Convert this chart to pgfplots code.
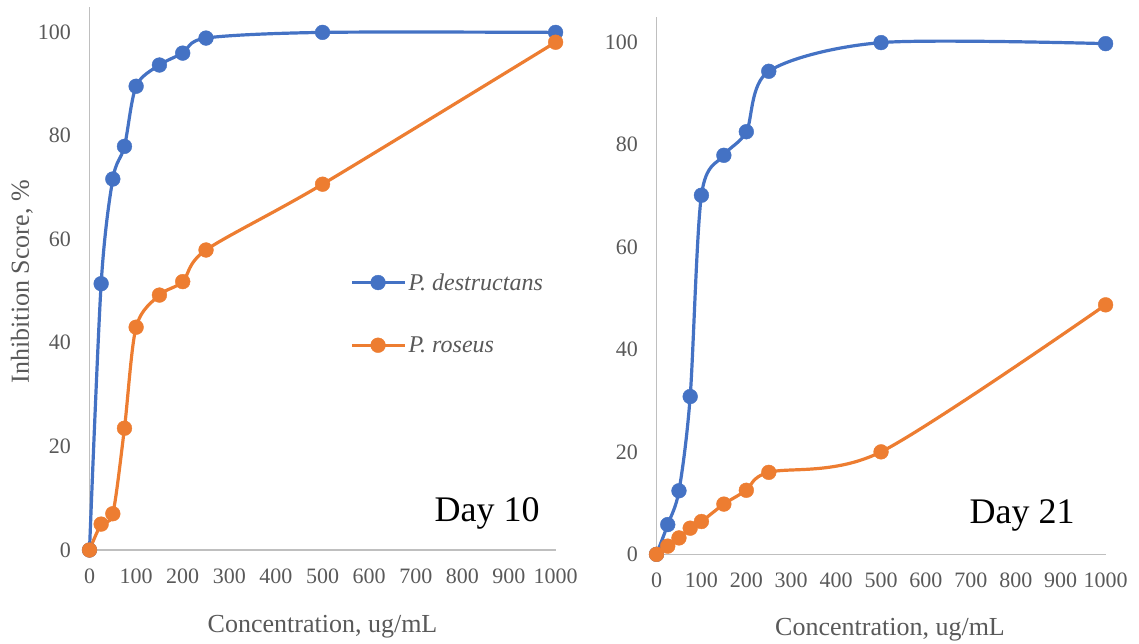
\documentclass[border=0pt]{standalone}
\usepackage{pgfplots}
\pgfplotsset{compat=1.18}
\usepackage{fontspec}
\setmainfont{Liberation Serif}
\definecolor{cblue}{HTML}{4472C4}
\definecolor{corange}{HTML}{ED7D31}
\definecolor{txt}{HTML}{595959}
\definecolor{axl}{HTML}{BFBFBF}
\pgfplotsset{
  myaxis/.style={
    scale only axis, clip=false,
    axis lines=left, axis line style={draw=axl, line width=1.3pt, -},
    xmin=0, xmax=1000, ymin=0,
    xtick={0,100,...,1000}, ytick={0,20,...,100},
    major tick length=0pt,
    tick label style={font=\fontsize{22}{26}\selectfont, text=txt},
    /pgf/number format/assume math mode=true,
    /pgf/number format/1000 sep={},
    scaled ticks=false,
    xticklabel style={yshift=-15pt},
    yticklabel style={xshift=-15pt},
    label style={font=\fontsize{26}{30}\selectfont, text=txt},
    anchor=south west,
  },
  blueplot/.style={color=cblue, line width=3.2pt, smooth, tension=0.5, mark=*, mark size=7.4pt, mark options={solid, fill=cblue, draw=cblue, line width=0.4pt}},
  orangeplot/.style={color=corange, line width=3.2pt, smooth, tension=0.5, mark=*, mark size=7.4pt, mark options={solid, fill=corange, draw=corange, line width=0.4pt}},
}
\begin{document}
\begin{tikzpicture}[x=1pt,y=1pt]
\useasboundingbox (0,0) rectangle (1139,643);
% Left panel: Day 10
\begin{axis}[myaxis, at={(89.5pt,93pt)}, width=466.1pt, height=543pt, ymax=104.8,
  xlabel={Concentration, ug/mL},
  xlabel style={at={(rel axis cs:0.5,-0.142)}, anchor=center},
  ylabel={Inhibition Score, \%},
  ylabel style={at={(rel axis cs:-0.145,0.494)}, anchor=center},
  legend style={at={(0.553,0.517)}, anchor=north west, draw=none, fill=none,
    font=\fontsize{24}{28}\selectfont\itshape, text=txt, row sep=41pt},
  legend cell align=left,
  legend image code/.code={\draw[mark repeat=2,mark phase=2,#1] plot coordinates {(0pt,0pt) (26pt,0pt) (53pt,0pt)};},
]
\addplot[blueplot] coordinates {(0,0) (25,51.4) (50,71.6) (75,77.9) (100,89.5) (150,93.6) (200,95.9) (250,98.8) (500,99.9) (1000,99.9)};
\addlegendentry{P. destructans}
\addplot[orangeplot] coordinates {(0,0) (25,5.0) (50,7.0) (75,23.5) (100,43.0) (150,49.2) (200,51.8) (250,57.9) (500,70.6) (1000,98.0)};
\addlegendentry{P. roseus}
\node[font=\fontsize{36}{40}\selectfont] at (rel axis cs:0.853,0.068) {Day 10};
\end{axis}
% Right panel: Day 21
\begin{axis}[myaxis, at={(656.5pt,88.7pt)}, width=449.1pt, height=537.3pt, ymax=104.9,
  xlabel={Concentration, ug/mL},
  xlabel style={at={(rel axis cs:0.520,-0.141)}, anchor=center},
]
\addplot[blueplot] coordinates {(0,0) (25,5.8) (50,12.4) (75,30.8) (100,70.1) (150,77.9) (200,82.5) (250,94.3) (500,99.9) (1000,99.7)};
\addplot[orangeplot] coordinates {(0,0) (25,1.6) (50,3.2) (75,5.1) (100,6.4) (150,9.8) (200,12.5) (250,16.0) (500,20.0) (1000,48.7)};
\node[font=\fontsize{36}{40}\selectfont] at (rel axis cs:0.814,0.073) {Day 21};
\end{axis}
\end{tikzpicture}
\end{document}
